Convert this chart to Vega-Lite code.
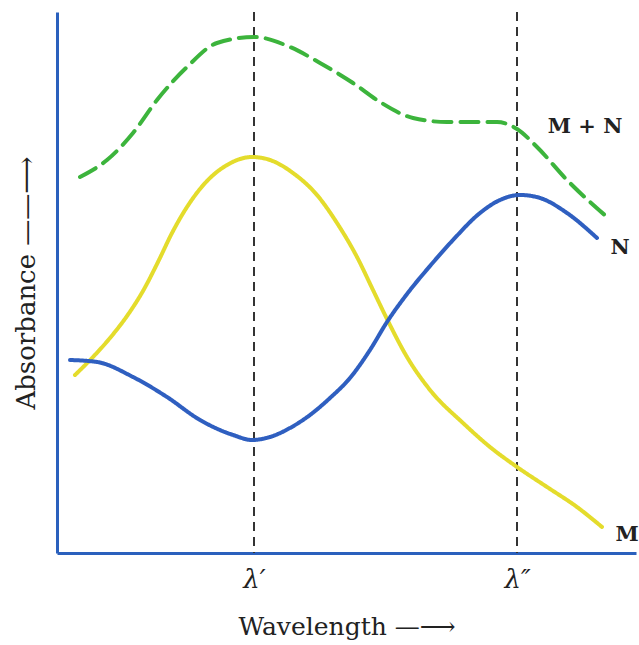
{
  "$schema": "https://vega.github.io/schema/vega-lite/v6.json",
  "width": 579,
  "height": 541,
  "autosize": {"type": "none"},
  "padding": {"left": 57, "top": 12, "right": 3, "bottom": 92},
  "background": "white",
  "config": {"view": {"stroke": null}},
  "datasets": {
    "curves": [
      {"series": "M", "x": 18, "y": 178},
      {"series": "M", "x": 36, "y": 196},
      {"series": "M", "x": 53, "y": 215},
      {"series": "M", "x": 70, "y": 237},
      {"series": "M", "x": 86, "y": 262},
      {"series": "M", "x": 101, "y": 291},
      {"series": "M", "x": 115, "y": 320},
      {"series": "M", "x": 130, "y": 346},
      {"series": "M", "x": 150, "y": 372},
      {"series": "M", "x": 170, "y": 388},
      {"series": "M", "x": 195, "y": 396},
      {"series": "M", "x": 213, "y": 393},
      {"series": "M", "x": 236, "y": 380},
      {"series": "M", "x": 260, "y": 358},
      {"series": "M", "x": 280, "y": 330},
      {"series": "M", "x": 300, "y": 296},
      {"series": "M", "x": 316, "y": 263},
      {"series": "M", "x": 330, "y": 234},
      {"series": "M", "x": 350, "y": 196},
      {"series": "M", "x": 373, "y": 163},
      {"series": "M", "x": 406, "y": 130},
      {"series": "M", "x": 433, "y": 106},
      {"series": "M", "x": 460, "y": 86},
      {"series": "M", "x": 490, "y": 66},
      {"series": "M", "x": 520, "y": 46},
      {"series": "M", "x": 545, "y": 26},
      {"series": "N", "x": 13, "y": 193},
      {"series": "N", "x": 40, "y": 191},
      {"series": "N", "x": 76, "y": 176},
      {"series": "N", "x": 110, "y": 156},
      {"series": "N", "x": 143, "y": 133},
      {"series": "N", "x": 176, "y": 118},
      {"series": "N", "x": 195, "y": 113},
      {"series": "N", "x": 213, "y": 116},
      {"series": "N", "x": 233, "y": 125},
      {"series": "N", "x": 253, "y": 138},
      {"series": "N", "x": 273, "y": 155},
      {"series": "N", "x": 293, "y": 175},
      {"series": "N", "x": 313, "y": 203},
      {"series": "N", "x": 330, "y": 231},
      {"series": "N", "x": 350, "y": 259},
      {"series": "N", "x": 373, "y": 287},
      {"series": "N", "x": 396, "y": 313},
      {"series": "N", "x": 423, "y": 340},
      {"series": "N", "x": 443, "y": 353},
      {"series": "N", "x": 463, "y": 358},
      {"series": "N", "x": 483, "y": 355},
      {"series": "N", "x": 510, "y": 340},
      {"series": "N", "x": 540, "y": 315},
      {"series": "M + N", "x": 23, "y": 376},
      {"series": "M + N", "x": 50, "y": 393},
      {"series": "M + N", "x": 76, "y": 420},
      {"series": "M + N", "x": 100, "y": 453},
      {"series": "M + N", "x": 130, "y": 486},
      {"series": "M + N", "x": 160, "y": 510},
      {"series": "M + N", "x": 197, "y": 516},
      {"series": "M + N", "x": 233, "y": 506},
      {"series": "M + N", "x": 263, "y": 490},
      {"series": "M + N", "x": 296, "y": 470},
      {"series": "M + N", "x": 323, "y": 451},
      {"series": "M + N", "x": 356, "y": 435},
      {"series": "M + N", "x": 390, "y": 431},
      {"series": "M + N", "x": 440, "y": 431},
      {"series": "M + N", "x": 460, "y": 424},
      {"series": "M + N", "x": 480, "y": 406},
      {"series": "M + N", "x": 510, "y": 373},
      {"series": "M + N", "x": 550, "y": 336}
    ],
    "marks": [
      {"x": 197, "name": "λ′"},
      {"x": 460, "name": "λ″"}
    ],
    "labels": [
      {"x": 528, "y": 426, "label": "M + N"},
      {"x": 563, "y": 305, "label": "N"},
      {"x": 570, "y": 18, "label": "M"}
    ]
  },
  "layer": [
    {
      "data": {"name": "marks"},
      "mark": {"type": "rule", "color": "#333333", "strokeWidth": 2, "strokeDash": [9, 6]},
      "encoding": {
        "x": {
          "field": "x",
          "type": "quantitative",
          "scale": {"domain": [0, 579], "nice": false, "zero": false},
          "axis": {
            "values": [197, 460],
            "labelExpr": "datum.value < 300 ? 'λ′' : 'λ″'",
            "domainColor": "#2a60bd",
            "domainWidth": 3,
            "ticks": false,
            "grid": false,
            "labelFont": "DejaVu Serif",
            "labelFontStyle": "italic",
            "labelFontSize": 26,
            "labelColor": "#222222",
            "labelPadding": 13,
            "title": "Wavelength —⟶",
            "titleFont": "DejaVu Serif",
            "titleFontWeight": "normal",
            "titleFontSize": 25,
            "titleColor": "#222222",
            "titlePadding": 22
          }
        }
      }
    },
    {
      "data": {"name": "curves"},
      "mark": {"type": "line", "interpolate": "monotone", "strokeCap": "round"},
      "encoding": {
        "x": {"field": "x", "type": "quantitative"},
        "y": {
          "field": "y",
          "type": "quantitative",
          "scale": {"domain": [0, 541], "nice": false, "zero": false},
          "axis": {
            "labels": false,
            "ticks": false,
            "grid": false,
            "domainColor": "#2a60bd",
            "domainWidth": 3,
            "title": "Absorbance ——⟶",
            "titleFont": "DejaVu Serif",
            "titleFontWeight": "normal",
            "titleFontSize": 26,
            "titleColor": "#222222",
            "titlePadding": 18
          }
        },
        "color": {
          "field": "series",
          "type": "nominal",
          "scale": {"domain": ["M", "N", "M + N"], "range": ["#e4dc2c", "#2f5fc0", "#3cb43c"]},
          "legend": null
        },
        "strokeDash": {
          "field": "series",
          "type": "nominal",
          "scale": {"domain": ["M", "N", "M + N"], "range": [[1, 0], [1, 0], [18, 9]]},
          "legend": null
        },
        "strokeWidth": {
          "field": "series",
          "type": "nominal",
          "scale": {"domain": ["M", "N", "M + N"], "range": [4, 4, 5]},
          "legend": null
        }
      }
    },
    {
      "data": {"name": "labels"},
      "mark": {"type": "text", "font": "DejaVu Serif", "fontWeight": "bold", "fontSize": 21, "align": "center", "baseline": "middle", "color": "#222222"},
      "encoding": {
        "x": {"field": "x", "type": "quantitative"},
        "y": {"field": "y", "type": "quantitative"},
        "text": {"field": "label"}
      }
    }
  ]
}
